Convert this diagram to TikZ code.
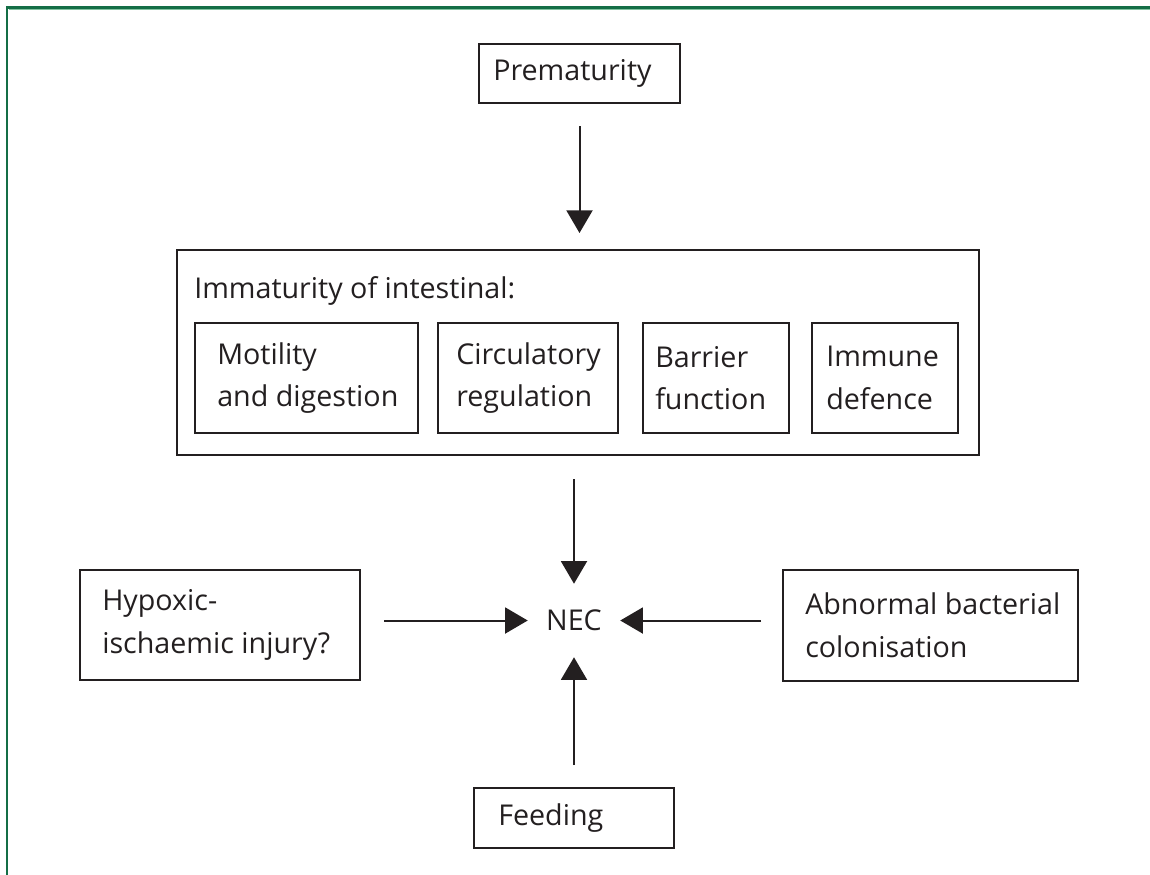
\documentclass[tikz,border=0pt]{standalone}
\usepackage{fontspec}
\setmainfont{Open Sans}
\usetikzlibrary{arrows.meta}
\definecolor{ink}{HTML}{231F20}
\definecolor{framegreen}{RGB}{20,110,70}
\definecolor{framelight}{RGB}{130,195,160}
\begin{document}
\begin{tikzpicture}[x=0.75pt,y=-0.75pt,
  every node/.style={text=ink,font=\fontsize{21.5pt}{32pt}\selectfont},
  bx/.style={draw=ink,line width=1.5pt,anchor=north west,inner sep=0pt},
  lbl/.style={anchor=west,align=left,inner sep=0pt},
  arr/.style={draw=ink,line width=1.5pt,-{Triangle[width=19.5pt,length=17pt]}}]
\useasboundingbox (0,0) rectangle (1150,875);
% frame
\draw[framelight,line width=0.8pt] (8.5,9) -- (1150,9);
\draw[framegreen,line width=1.6pt] (7,875) -- (7,7.5) -- (1150,7.5);
% boxes
\node[bx,minimum width=150.75pt,minimum height=44.25pt] (prem) at (478,43) {};
\node[lbl] (premT) at ([xshift=11.25pt]prem.west) {Prematurity};
\node[bx,minimum width=601.5pt,minimum height=153.75pt] (big) at (176,249) {};
\node[anchor=base west,inner sep=0pt] (bigT) at (194,298) {Immaturity of intestinal:};
\node[bx,minimum width=167.25pt,minimum height=82.5pt] (mot) at (194,322) {};
\node[lbl] (motT) at ([xshift=17.25pt]mot.west) {Motility\\and digestion};
\node[bx,minimum width=135pt,minimum height=82.5pt] (circ) at (437,322) {};
\node[lbl] (circT) at ([xshift=14.25pt]circ.west) {Circulatory\\regulation};
\node[bx,minimum width=109.5pt,minimum height=82.5pt] (barr) at (642,322) {};
\node[lbl] (barrT) at ([xshift=9.75pt]barr.west) {Barrier\\function};
\node[bx,minimum width=109.5pt,minimum height=82.5pt] (imm) at (811,322) {};
\node[lbl] (immT) at ([xshift=11.25pt]imm.west) {Immune\\defence};
\node[bx,minimum width=210pt,minimum height=82.5pt] (hyp) at (79,569) {};
\node[lbl] (hypT) at ([xshift=17.25pt]hyp.west) {Hypoxic-\\ischaemic injury?};
\node[bx,minimum width=221.25pt,minimum height=83.25pt] (abn) at (782,569) {};
\node[lbl] (abnT) at ([xshift=17.25pt]abn.west) {Abnormal bacterial\\colonisation};
\node[bx,minimum width=150pt,minimum height=45pt] (feed) at (473,787) {};
\node[lbl] (feedT) at ([xshift=18.75pt]feed.west) {Feeding};
\node[inner sep=0pt,minimum width=69pt,minimum height=54.75pt] (nec) at (574,620.5) {NEC};
% arrows
\draw[arr,shorten <=16.5pt,shorten >=12pt] (prem.south) -- (prem.south |- big.north);
\draw[arr,shorten <=17.25pt] (nec.north |- big.south) -- (nec.north);
\draw[arr,shorten <=17.25pt] (hyp.east |- nec.west) -- (nec.west);
\draw[arr,shorten <=15.75pt] (abn.west |- nec.east) -- (nec.east);
\draw[arr,shorten <=16.5pt] (nec.south |- feed.north) -- (nec.south);
\end{tikzpicture}
\end{document}
